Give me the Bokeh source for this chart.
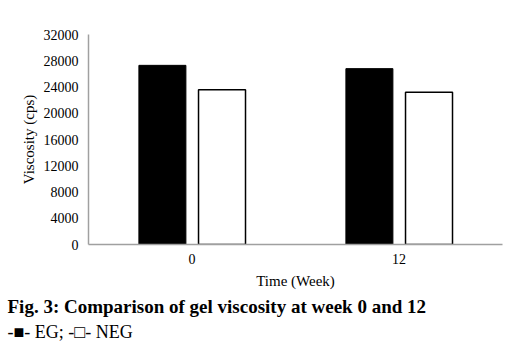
from bokeh.plotting import figure
from bokeh.models import ColumnDataSource, FactorRange, Range1d, Title, FixedTicker
from bokeh.transform import dodge
from bokeh.embed import file_html
from bokeh.resources import INLINE

weeks = ["0", "12"]
eg = [27300, 26800]
neg = [23600, 23200]
y_ticks = [0, 4000, 8000, 12000, 16000, 20000, 24000, 28000, 32000]

src = ColumnDataSource(dict(weeks=weeks, eg=eg, neg=neg))

FONT = "Liberation Serif"

p = figure(width=512, height=346, x_range=FactorRange(*weeks, range_padding=0),
           y_range=Range1d(0, 32000), output_backend="svg", toolbar_location=None,
           min_border_left=88, min_border_right=10, min_border_top=34, min_border_bottom=102)
p.outline_line_color = None
p.xgrid.visible = False
p.ygrid.visible = False

p.vbar(x=dodge("weeks", -0.143, range=p.x_range), top="eg", width=0.227, source=src,
       fill_color="black", line_color="black")
p.vbar(x=dodge("weeks", 0.145, range=p.x_range), top="neg", width=0.227, source=src,
       fill_color="white", line_color="black", line_width=1.5)

for ax in (p.xaxis[0], p.yaxis[0]):
    ax.axis_line_color = "#a0a0a0"
    ax.axis_line_width = 1.5
    ax.major_tick_line_color = None
    ax.minor_tick_line_color = None
    ax.major_tick_out = 0
    ax.major_tick_in = 0
    ax.major_label_text_font = FONT
    ax.major_label_text_font_size = "14px"
    ax.major_label_text_color = "black"
    ax.axis_label_text_font = FONT
    ax.axis_label_text_font_size = "15px"
    ax.axis_label_text_font_style = "normal"
    ax.axis_label_text_color = "black"

p.yaxis.ticker = FixedTicker(ticks=y_ticks)
p.yaxis.major_label_standoff = 10
p.yaxis.axis_label = "Viscosity (cps)"
p.yaxis.axis_label_standoff = 4
p.xaxis.major_label_standoff = 9
p.xaxis.axis_label = "Time (Week)"
p.xaxis.axis_label_standoff = 6

p.add_layout(Title(text="Fig. 3: Comparison of gel viscosity at week 0 and 12",
                   text_font=FONT, text_font_size="19px", text_font_style="bold",
                   text_color="black", align="left", offset=-81, standoff=5), "below")
p.add_layout(Title(text="-■- EG; -□- NEG",
                   text_font=FONT, text_font_size="18px", text_font_style="normal",
                   text_color="black", align="left", offset=-81, standoff=1), "below")

open("out.html", "w").write(file_html(p, INLINE))
